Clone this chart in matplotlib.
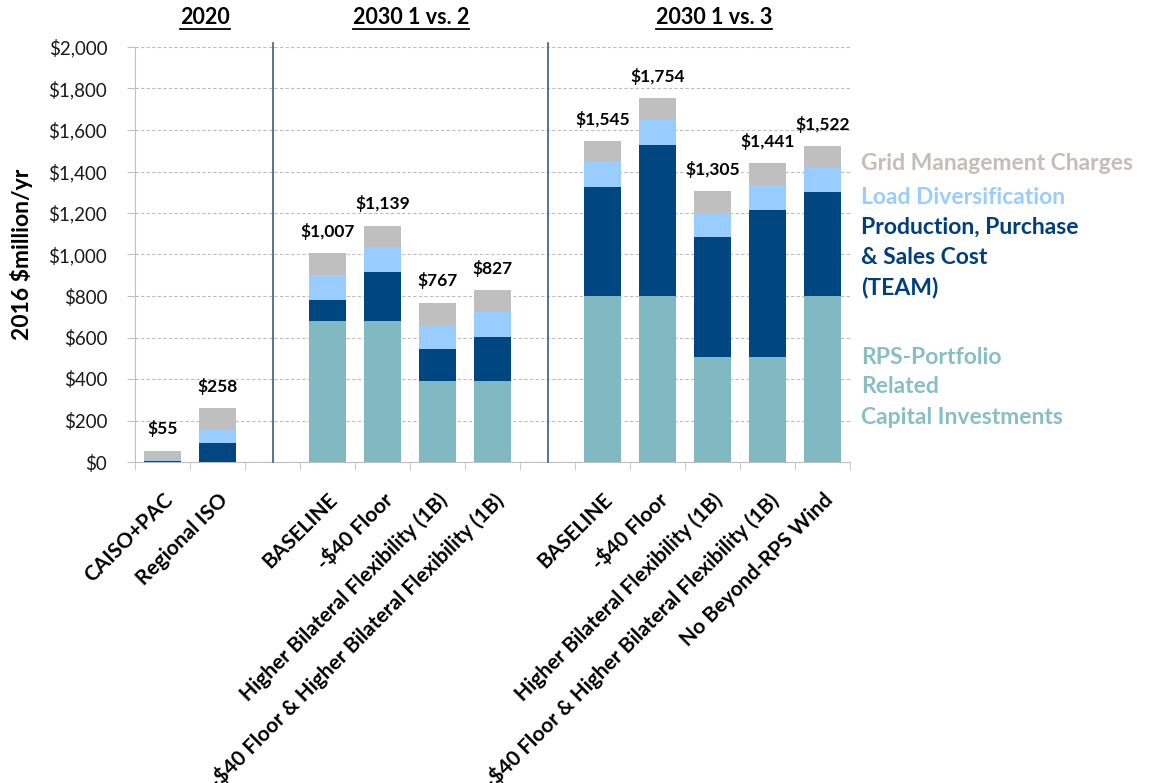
import matplotlib
matplotlib.use("Agg")
import matplotlib.pyplot as plt
import numpy as np
from matplotlib.lines import Line2D

plt.rcParams['font.family'] = ['Lato', 'DejaVu Sans']

categories = ["CAISO+PAC", "Regional ISO", "",
              "BASELINE", "-$40 Floor", "Higher Bilateral Flexibility (1B)",
              "-$40 Floor & Higher Bilateral Flexibility (1B)", "",
              "BASELINE", "-$40 Floor", "Higher Bilateral Flexibility (1B)",
              "-$40 Floor & Higher Bilateral Flexibility (1B)", "No Beyond-RPS Wind"]
rps_capital = [0, 0, 0, 680, 680, 392, 392, 0, 800, 800, 507, 507, 800]
team_cost = [6, 93, 0, 102, 236, 153, 212, 0, 525, 729, 576, 709, 500]
load_div = [4, 63, 0, 121, 120, 115, 121, 0, 121, 121, 119, 121, 119]
grid_mgmt = [45, 102, 0, 104, 103, 107, 102, 0, 99, 104, 103, 104, 103]
blank_idx = [2, 7]
group_titles = ["2020", "2030 1 vs. 2", "2030 1 vs. 3"]
yticks = [0, 200, 400, 600, 800, 1000, 1200, 1400, 1600, 1800, 2000]

c_rps = "#80B9C1"
c_team = "#004680"
c_ld = "#99CCFF"
c_grid = "#BFBFBF"

fig = plt.figure(figsize=(11.49, 7.83), dpi=100)
ax = fig.add_axes([135/1149, 1-462/783, (850-135)/1149, (462-47)/783])

x = np.arange(len(categories))
show = np.array([i not in blank_idx for i in x])
xs = x[show]
r = np.array(rps_capital)[show]
t = np.array(team_cost)[show]
l = np.array(load_div)[show]
g = np.array(grid_mgmt)[show]
w = 0.66
ax.bar(xs, r, w, color=c_rps, zorder=3)
ax.bar(xs, t, w, bottom=r, color=c_team, zorder=3)
ax.bar(xs, l, w, bottom=r+t, color=c_ld, zorder=3)
ax.bar(xs, g, w, bottom=r+t+l, color=c_grid, zorder=3)
tot = r + t + l + g
for xi, ti in zip(xs, tot):
    ax.text(xi, ti + 65, f"${ti:,.0f}", ha='center', va='bottom',
            fontsize=12.5, fontweight='bold', color='black')

for b in blank_idx:
    ax.axvline(b, ymin=0, ymax=1.01, color="#3B5B82", lw=1.2, zorder=4, clip_on=False)

ax.set_xlim(-0.5, len(categories) - 0.5)
ax.set_ylim(0, 2000)
ax.set_yticks(yticks)
ax.set_yticklabels([f"${v:,.0f}" for v in yticks], fontsize=13.5, color="#1a1a1a")
ax.yaxis.grid(True, linestyle=(0, (3, 2)), color="#BDBDBD", lw=0.8, zorder=0)
ax.tick_params(axis='y', length=6, color="#BFBFBF", pad=14)

ax.set_xticks(x)
ax.set_xticklabels(categories, rotation=45, ha='right', rotation_mode='anchor',
                   fontsize=15, fontweight='bold', color='black')
ax.tick_params(axis='x', which='major', length=0, pad=20)
ax.set_xticks(np.arange(-0.5, len(categories), 1.0), minor=True)
ax.tick_params(axis='x', which='minor', length=6, color="#BFBFBF")

for s in ['top', 'right']:
    ax.spines[s].set_visible(False)
ax.spines['left'].set_color("#BFBFBF")
ax.spines['bottom'].set_color("#BFBFBF")

ax.set_ylabel("2016 $million/yr", fontsize=16.5, fontweight='bold')
ax.yaxis.set_label_coords(-0.142, 0.50)

# group titles
title_x = [205, 411, 714]
fig.canvas.draw()
renderer = fig.canvas.get_renderer()
for tx, tt in zip(title_x, group_titles):
    txt = fig.text(tx/1149, 1-17/783, tt, ha='center', va='center',
                   fontsize=15.5, fontweight='bold', color='black')
    bb = txt.get_window_extent(renderer)
    y_line = 1 - 29/783
    fig.add_artist(Line2D([bb.x0/1149, bb.x1/1149], [y_line, y_line],
                          color='black', lw=1.3, transform=fig.transFigure))

# legend text
leg = [
    ("Grid Management Charges", "#C4BFB5", 164),
    ("Load Diversification", "#99CCFF", 197),
    ("Production, Purchase", "#003F7F", 227),
    ("& Sales Cost", "#003F7F", 257),
    ("(TEAM)", "#003F7F", 287),
    ("RPS-Portfolio", "#88BFC7", 357),
    ("Related", "#88BFC7", 387),
    ("Capital Investments", "#88BFC7", 417),
]
for s, c, yy in leg:
    fig.text(861/1149, 1-yy/783, s, ha='left', va='center', fontsize=16.5,
             fontweight='bold', color=c)

fig.savefig("out.png", dpi=100)
